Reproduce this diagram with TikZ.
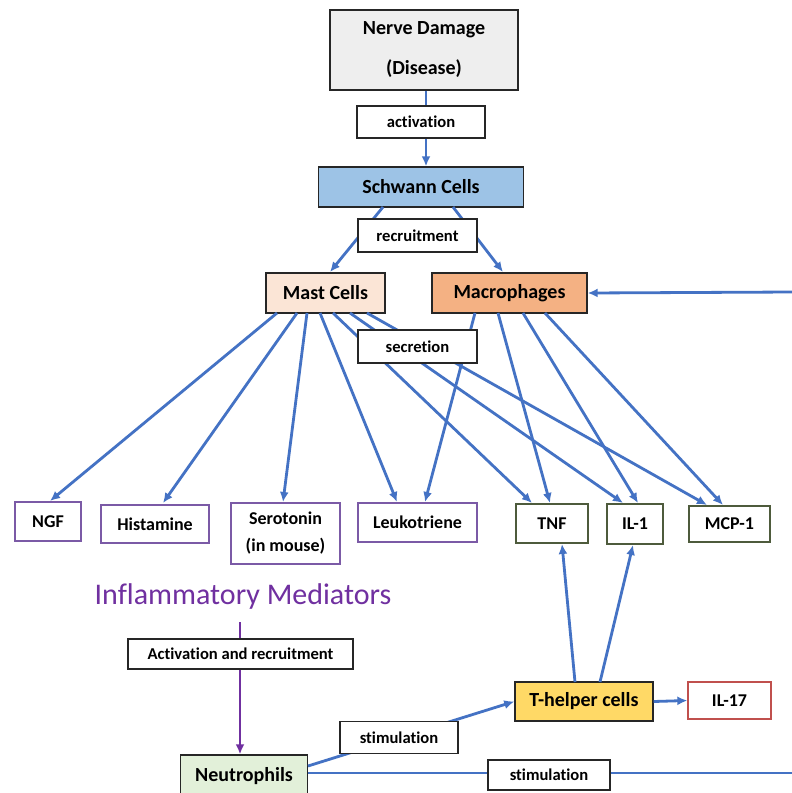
\documentclass[tikz,border=0pt]{standalone}
\usepackage{fontspec}
\setmainfont{Carlito}[Ligatures=NoCommon]
\usetikzlibrary{arrows.meta}
\definecolor{lineblue}{HTML}{4472C4}
\definecolor{medpurple}{HTML}{7030A0}
\definecolor{boxpurple}{HTML}{7B5AA6}
\definecolor{boxolive}{HTML}{4E5B3C}
\definecolor{boxred}{HTML}{C0504D}
\definecolor{nervegray}{HTML}{EEEEEE}
\definecolor{schwannblue}{HTML}{9DC3E6}
\definecolor{mastpeach}{HTML}{FBE5D6}
\definecolor{macroorange}{HTML}{F4B183}
\definecolor{thelpergold}{HTML}{FFD966}
\definecolor{neutrogreen}{HTML}{E2F0D9}
\tikzset{
  cellbox/.style={draw=black!85, line width=1.4pt, font=\bfseries\fontsize{20}{24}\selectfont, inner sep=0pt, align=center},
  labbox/.style={draw=black!85, fill=white, line width=1.3pt, font=\bfseries\fontsize{16.6}{19}\selectfont, inner sep=0pt},
  medbox/.style={draw=boxpurple, fill=white, line width=1.3pt, font=\bfseries\fontsize{18}{27}\selectfont, inner sep=0pt, align=center},
  cytbox/.style={draw=boxolive, fill=white, line width=1.3pt, font=\bfseries\fontsize{18}{21}\selectfont, inner sep=0pt},
  conn/.style={draw=lineblue, line width=2.8pt, -{Latex[length=10pt,width=9pt]}},
  plainconn/.style={draw=lineblue, line width=2.8pt},
  purpconn/.style={draw=medpurple, line width=2.4pt, -{Latex[length=10pt,width=9pt]}}
}
\begin{document}
\begin{tikzpicture}[x=1pt,y=-1pt]
\useasboundingbox (0,0) rectangle (792,793);
\fill[white] (0,0) rectangle (792,793);

% main nodes
\node[cellbox, fill=nervegray, minimum width=188pt, minimum height=80pt, font=\bfseries\fontsize{20}{40}\selectfont] (nerve) at (424,50) {Nerve Damage\\(Disease)};
\node[cellbox, fill=schwannblue, minimum width=205pt, minimum height=40pt] (schwann) at (421,187) {Schwann Cells};
\node[cellbox, fill=mastpeach, minimum width=119pt, minimum height=40pt] (mast) at (325.5,293) {Mast Cells};
\node[cellbox, fill=macroorange, minimum width=155pt, minimum height=40pt] (macro) at (509.5,293) {Macrophages};

% mediators
\node[medbox, minimum width=66pt, minimum height=39pt] (ngf) at (48,521.5) {NGF};
\node[medbox, minimum width=108pt, minimum height=38pt] (hist) at (155,524) {Histamine};
\node[medbox, minimum width=109pt, minimum height=61pt] (sero) at (285.5,533.5) {Serotonin\\(in mouse)};
\node[medbox, minimum width=119pt, minimum height=39pt] (leuko) at (417.5,522.5) {Leukotriene};
\node[cytbox, minimum width=72pt, minimum height=39pt] (tnf) at (552,523.5) {TNF};
\node[cytbox, minimum width=56pt, minimum height=40pt] (il1) at (635,524) {IL-1};
\node[cytbox, minimum width=81pt, minimum height=36pt] (mcp) at (729.5,524) {MCP-1};

\node[font=\fontsize{30}{34}\selectfont, text=medpurple, inner sep=0pt] (infl) at (243,596) {Inflammatory Mediators};

\node[cellbox, fill=neutrogreen, minimum width=127pt, minimum height=42pt] (neutro) at (244,776) {Neutrophils};
\node[cellbox, fill=thelpergold, minimum width=138pt, minimum height=39pt] (thelper) at (584,701.5) {T-helper cells};
\node[cytbox, draw=boxred, minimum width=83pt, minimum height=37pt] (il17) at (729.5,700.5) {IL-17};

% edge coordinates at the picture border
\coordinate (rightin) at (792,292);
\coordinate (rightout) at (792,773);
\coordinate (inflbot) at (240,622);

% connectors
\draw[conn] (nerve.south -| 426,0) -- (schwann.north -| 426,0);
\draw[conn] (383,207) -- (330,272);
\draw[conn] (453,207) -- (503,272);
\draw[conn] (rightin) -- (macro.east);

% mast cells outputs
\draw[conn] (277,313) -- (50,501);
\draw[conn] (297,313) -- (163,503);
\draw[conn] (307,313) -- (283,502);
\draw[conn] (320,313) -- (397,502);
\draw[conn] (333,313) -- (532,503);
\draw[conn] (350,313) -- (623,503);
\draw[conn] (367,313) -- (707,505);

% macrophage outputs
\draw[conn] (475,313) -- (425,502);
\draw[conn] (498,313) -- (550,503);
\draw[conn] (523,313) -- (638,503);
\draw[conn] (545,313) -- (723,505);

% T-helper outputs
\draw[conn] (575,682) -- (562,544);
\draw[conn] (600,682) -- (633,545);
\draw[conn] (thelper.east) -- (il17.west);

% neutrophils
\draw[purpconn] (inflbot) -- (neutro.north -| inflbot);
\draw[conn] (308,766) -- (thelper.west);
\draw[plainconn] (neutro.east |- rightout) -- (rightout);

% label boxes on the connectors
\node[labbox, minimum width=128pt, minimum height=32pt] (act) at (421,122) {activation};
\node[labbox, minimum width=119pt, minimum height=33pt] (recr) at (417.5,235.5) {recruitment};
\node[labbox, minimum width=119pt, minimum height=33pt] (secr) at (417.5,346.5) {secretion};
\node[labbox, minimum width=225pt, minimum height=30pt] (actrec) at (240.5,654) {Activation and recruitment};
\node[labbox, minimum width=118pt, minimum height=32pt] (stim1) at (399,737.5) {stimulation};
\node[labbox, minimum width=122pt, minimum height=30pt] (stim2) at (549,775) {stimulation};
\end{tikzpicture}
\end{document}
